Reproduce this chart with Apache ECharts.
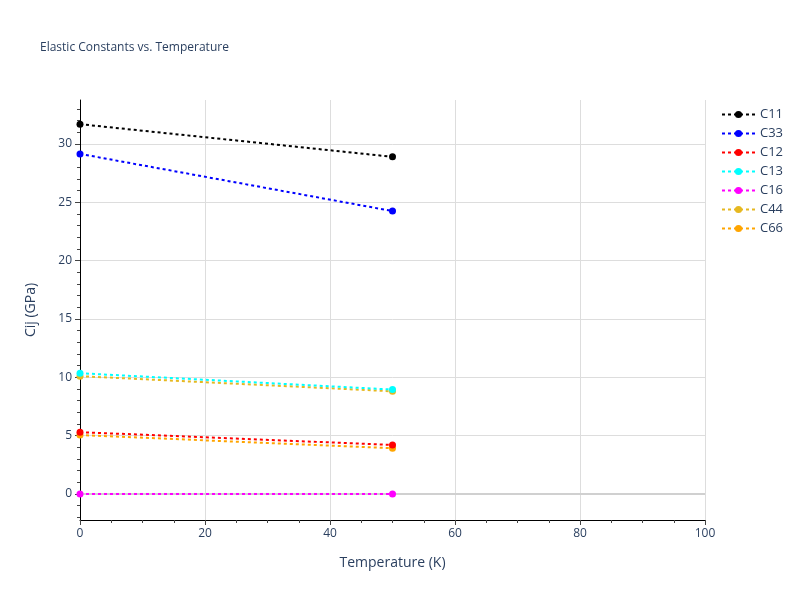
<!DOCTYPE html>
<html><head><meta charset="utf-8">
<script src="https://cdn.jsdelivr.net/npm/echarts@6/dist/echarts.min.js"></script>
<style>html,body{margin:0;padding:0;background:#fff}#c{width:800px;height:600px}</style>
</head><body><div id="c"></div>
<script>
const temps = [0, 50];
const seriesNames = ['C11','C33','C12','C13','C16','C44','C66'];
const C11 = [31.7, 28.9];
const C33 = [29.15, 24.25];
const C12 = [5.3, 4.2];
const C13 = [10.35, 8.95];
const C16 = [0, 0];
const C44 = [10.1, 8.8];
const C66 = [5.05, 3.92];
const colors = ['#000000','#0000ff','#ff0000','#00ffff','#ff00ff','#e6b820','#ffa500'];
const yTickLabels = [0,5,10,15,20,25,30];
const yMinorTicks = [-2,-1,0,1,2,3,4,5,6,7,8,9,10,11,12,13,14,15,16,17,18,19,20,21,22,23,24,25,26,27,28,29,30,31,32,33];

const values = [C11,C33,C12,C13,C16,C44,C66];
const txt = '#2a3f5f';
const font = '"Open Sans", Verdana, Arial, sans-serif';
const series = seriesNames.map((n,i)=>({
  name:n, type:'line', xAxisIndex:0, yAxisIndex:0,
  data: temps.map((t,j)=>[t, values[i][j]]),
  symbol:'circle', symbolSize:7,
  itemStyle:{color:colors[i]},
  lineStyle:{color:colors[i], width:2, type:[3,3]},
  z: 10-i
}));
series.push({
  type:'line', data:[], xAxisIndex:0, yAxisIndex:0, silent:true,
  markLine:{silent:true, symbol:'none', label:{show:false},
    lineStyle:{color:'#d0d0d0', width:2, type:'solid'},
    data:[{yAxis:0}]}, z:1
});
const chart = echarts.init(document.getElementById('c'), null, {renderer:'canvas'});
chart.setOption({
  animation:false,
  backgroundColor:'#fff',
  title:{text:'Elastic Constants vs. Temperature', left:35, top:37,
    textStyle:{fontSize:12, fontWeight:'normal', color:txt, fontFamily:font}},
  legend:{orient:'vertical', left:716, top:103, itemGap:6, itemWidth:33, itemHeight:9,
    data:seriesNames,
    textStyle:{fontSize:13, color:txt, fontFamily:font}},
  grid:{left:80, right:95, top:100, bottom:80},
  xAxis:[{type:'value', min:0, max:100, interval:20,
    name:'Temperature (K)', nameLocation:'middle', nameGap:36,
    nameTextStyle:{fontSize:14, color:txt, fontFamily:font},
    axisLine:{show:true, onZero:false, lineStyle:{color:'#000', width:1}},
    axisTick:{show:true, length:5, lineStyle:{color:'#444'}},
    minorTick:{show:true, splitNumber:4, length:3, lineStyle:{color:'#444'}},
    axisLabel:{fontSize:12, color:txt, fontFamily:font, margin:8},
    splitLine:{show:true, lineStyle:{color:'#dddddd', width:1}}
  }],
  yAxis:[{type:'value', min:-2.23, max:33.77,
    name:'Cij (GPa)', nameLocation:'middle', nameGap:42,
    nameTextStyle:{fontSize:14, color:txt, fontFamily:font},
    axisLine:{show:true, onZero:false, lineStyle:{color:'#000', width:1}},
    axisTick:{show:true, length:5, customValues:yTickLabels, lineStyle:{color:'#444'}},
    axisLabel:{fontSize:12, color:txt, fontFamily:font, margin:8, customValues:yTickLabels},
    splitLine:{show:true, lineStyle:{color:'#dddddd', width:1}}
  },{type:'value', min:-2.23, max:33.77, position:'left',
    axisLine:{show:false},
    axisTick:{show:true, length:3, customValues:yMinorTicks, lineStyle:{color:'#444'}},
    axisLabel:{show:false, customValues:yMinorTicks},
    splitLine:{show:false}
  }],
  series:series
});
</script></body></html>
